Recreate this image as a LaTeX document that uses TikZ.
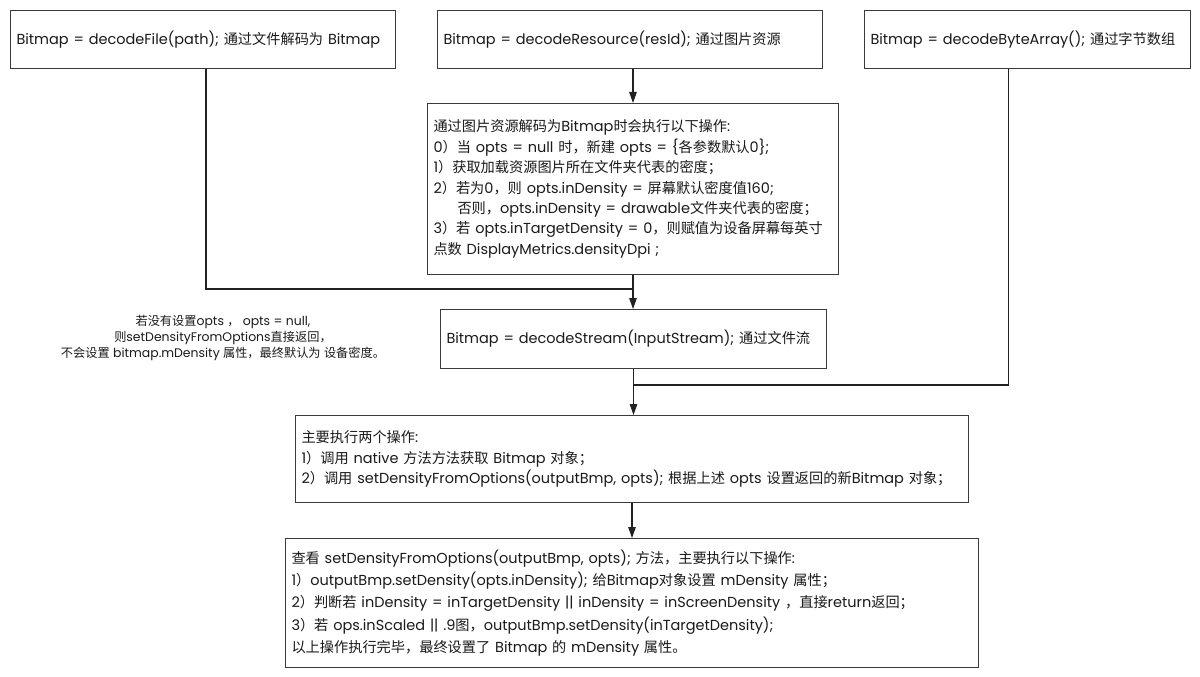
\documentclass[tikz,border=0pt]{standalone}
\usepackage{fontspec}
\usetikzlibrary{arrows.meta}
\setmainfont{Poppins}[Scale=1.02]
\newfontfamily\cjkfont{Noto Sans CJK SC}
\XeTeXinterchartokenstate=1
\newXeTeXintercharclass\cjkclass
\makeatletter
\def\setcjkrange#1#2{\count@=#1\relax\loop\XeTeXcharclass\count@=\cjkclass\ifnum\count@<#2\relax\advance\count@ by 1\repeat}
\makeatother
\setcjkrange{"3000}{"303F}
\setcjkrange{"4E00}{"9FFF}
\setcjkrange{"FF00}{"FFEF}
\XeTeXinterchartoks 0 \cjkclass={\cjkfont}
\XeTeXinterchartoks 4095 \cjkclass={\cjkfont}
\XeTeXinterchartoks \cjkclass 0={\rmfamily}
\XeTeXinterchartoks \cjkclass 4095={\rmfamily}
\definecolor{edge}{HTML}{3A3A3A}
\definecolor{line}{HTML}{222222}
\definecolor{ink}{HTML}{1A1A1A}
\tikzset{
  box/.style={draw=edge, line width=1pt, anchor=north west, align=left,
    inner xsep=6pt, inner ysep=0pt, text=ink,
    font=\fontsize{14.2}{20.4}\selectfont},
  conn/.style={draw=line, line width=1.1pt},
  arr/.style={conn, -{Triangle[length=11pt,width=7.5pt]}},
  note/.style={align=center, text=ink, font=\fontsize{12.2}{16}\selectfont, inner sep=0pt}
}
\begin{document}
\begin{tikzpicture}[x=1pt,y=-1pt]
\useasboundingbox[fill=white] (0,0) rectangle (1200,677);
\node[box, minimum height=58pt, text width=373pt] (b1) at (10,10)
  {Bitmap = decodeFile(path); 通过文件解码为 Bitmap};
\node[box, minimum height=58pt, text width=373pt] (b2) at (437,10)
  {Bitmap = decodeResource(resId); 通过图片资源};
\node[box, minimum height=58pt, text width=314pt] (b3) at (864,10)
  {Bitmap = decodeByteArray(); 通过字节数组};
\node[box, minimum height=171pt, text width=399pt] (b4) at (427,103)
  {通过图片资源解码为Bitmap时会执行以下操作:\\
   0）当 opts = null 时，新建 opts = \{各参数默认0\};\\
   1）获取加载资源图片所在文件夹代表的密度；\\
   2）若为0，则 opts.inDensity = 屏幕默认密度值160;\\
   \hspace*{24pt}否则，opts.inDensity = drawable文件夹代表的密度；\\
   3）若 opts.inTargetDensity = 0，则赋值为设备屏幕每英寸\\
   点数 DisplayMetrics.densityDpi ;};
\node[box, minimum height=59pt, text width=374pt] (b5) at (440,309)
  {Bitmap = decodeStream(InputStream); 通过文件流};
\node[box, minimum height=87pt, text width=661pt] (b6) at (295,415)
  {主要执行两个操作:\\
   1）调用 native 方法方法获取 Bitmap 对象；\\
   2）调用 setDensityFromOptions(outputBmp, opts); 根据上述 opts 设置返回的新Bitmap 对象；};
\node[box, minimum height=129pt, text width=681pt, font=\fontsize{14.2}{22.2}\selectfont] (b7) at (285,538)
  {查看 setDensityFromOptions(outputBmp, opts); 方法，主要执行以下操作:\\
   1）outputBmp.setDensity(opts.inDensity); 给Bitmap对象设置 mDensity 属性；\\
   2）判断若 inDensity = inTargetDensity || inDensity = inScreenDensity ，直接return返回；\\
   3）若 ops.inScaled || .9图，outputBmp.setDensity(inTargetDensity);\\
   以上操作执行完毕，最终设置了 Bitmap 的 mDensity 属性。};
\node[note] (nt) at (223,338)
  {若没有设置opts ， opts = null,\\
   则setDensityFromOptions直接返回，\\
   不会设置 bitmap.mDensity 属性，最终默认为 设备密度。};
\path (b4.south) ++(0,14) coordinate (j1);
\path (b5.south) ++(0,16) coordinate (j2);
\draw[conn] ([xshift=3pt]b1.south) |- (j1);
\draw[conn] ([xshift=-19pt]b3.south) |- (j2);
\draw[arr] (b4.north |- b2.south) -- (b4.north);
\draw[arr] (b4.south) -- (b4.south |- b5.north);
\draw[arr] (b5.south) -- (b5.south |- b6.north);
\draw[arr] (b6.south) -- (b6.south |- b7.north);
\end{tikzpicture}
\end{document}
